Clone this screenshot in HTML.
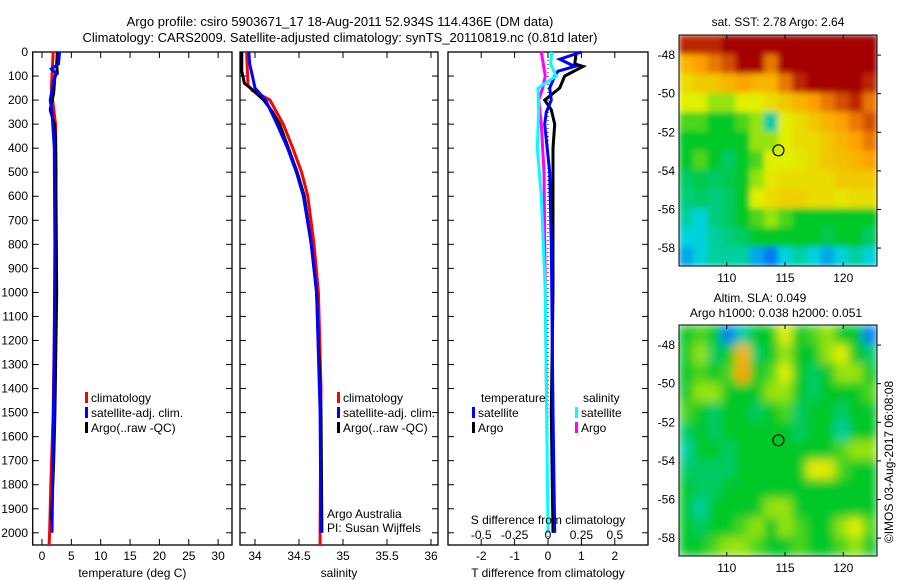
<!DOCTYPE html>
<html><head><meta charset="utf-8">
<style>
body{margin:0;background:#fff;}
svg{display:block;font-family:"Liberation Sans",sans-serif;}
text{font-size:12px;fill:#000;}
</style></head>
<body>
<svg id="fig" width="900" height="580" xmlns="http://www.w3.org/2000/svg">
<defs>
<filter id="blur1" x="0" y="0" width="1" height="1"><feGaussianBlur stdDeviation="3" edgeMode="duplicate"/></filter>
<filter id="blur2" x="0" y="0" width="1" height="1"><feGaussianBlur stdDeviation="5" edgeMode="duplicate"/></filter>
<clipPath id="clip1"><rect x="679" y="35" width="198" height="231"/></clipPath>
<clipPath id="clip2"><rect x="679" y="325" width="198" height="231"/></clipPath>
</defs>
<text x="340" y="26" text-anchor="middle" style="font-size:13px">Argo profile: csiro 5903671_17 18-Aug-2011 52.934S 114.436E (DM data)</text>
<text x="340" y="42" text-anchor="middle" style="font-size:13px">Climatology: CARS2009. Satellite-adjusted climatology: synTS_20110819.nc (0.81d later)</text>
<g id="p1"></g>
<g id="p2"></g>
<g id="p3"></g>
<g id="m1"></g>
<g id="m2"></g>
<text x="778" y="26" text-anchor="middle">sat. SST: 2.78 Argo: 2.64</text>
<text x="760" y="302" text-anchor="middle">Altim. SLA: 0.049</text>
<text x="776" y="317" text-anchor="middle">Argo h1000: 0.038 h2000: 0.051</text>
<text transform="translate(893,462) rotate(-90)" text-anchor="middle">©IMOS 03-Aug-2017 06:08:08</text>
<text x="327" y="518">Argo Australia</text>
<text x="327" y="532">PI: Susan Wijffels</text>
</svg>
<script>
// depth axis
const depthTicks=[0,100,200,300,400,500,600,700,800,900,1000,1100,1200,1300,1400,1500,1600,1700,1800,1900,2000];
// temperature panel
const tempTicks=[0,5,10,15,20,25,30];
const tClimDepth=[0,100,150,200,300,500,1000,1500,1800,2000,2055];
const tClim=[1.9,1.7,1.6,1.8,2.3,2.4,2.2,1.9,1.5,1.3,1.2];
const tSatDepth=[0,50,70,90,130,200,250,400,800,1200,1600,2000];
const tSat=[3.0,2.8,1.6,2.4,1.9,1.4,1.7,2.1,2.2,2.1,1.9,1.7];
const tArgoDepth=[0,50,90,100,170,240,300,350,1000,1500,1700,1950];
const tArgo=[2.6,2.5,2.6,2.2,2.0,1.4,2.1,2.3,2.5,2.2,2.0,1.6];
// salinity panel
const salTicks=[34,34.5,35,35.5,36];
const sClimDepth=[0,140,160,200,300,400,500,600,800,1000,1400,2000,2055];
const sClim=[33.905,33.92,33.97,34.17,34.32,34.43,34.53,34.6,34.67,34.72,34.75,34.74,34.74];
const sArgoDepth=[0,80,130,150,200,250,300,400,500,600,800,1000,1500,2000];
const sArgo=[33.85,33.85,33.88,33.95,34.1,34.2,34.28,34.38,34.48,34.56,34.64,34.7,34.75,34.76];
const sSatDepth=[0,50,100,150,200,300,400,500,600,800,1000,1500,2000];
const sSat=[33.93,33.94,33.97,34.0,34.12,34.25,34.37,34.47,34.55,34.64,34.7,34.74,34.75];
// difference panel
const tDiffTicks=[-2,-1,0,1,2];
const sDiffTicks=[-0.5,-0.25,0,0.25,0.5];
const dTSatDepth=[0,30,60,80,100,150,200,250,300,500,800,1500,2000];
const dTSat=[1.0,0.35,0.8,0.3,0.2,0.05,0.1,-0.05,-0.1,0.05,0.1,0.15,0.2];
const dTArgoDepth=[0,50,60,100,150,200,240,300,400,600,1000,1500,2000];
const dTArgo=[0.85,0.8,1.05,0.5,0.35,-0.1,0.1,0.2,0.15,0.15,0.15,0.1,0.15];
const dSSatDepth=[0,50,100,150,250,400,600,1000,2000];
const dSSat=[0.028,0.02,0.06,-0.075,-0.07,-0.08,-0.05,-0.02,0.0];
const dSArgoDepth=[0,100,150,200,300,500,1000,1500];
const dSArgo=[-0.05,-0.02,-0.04,-0.07,-0.05,-0.03,-0.02,-0.01];
// maps
const lonTicks=[110,115,120];
const latTicks=[-48,-50,-52,-54,-56,-58];
const sstGrid=[
[0.95,0.95,0.95,1,1,1,1,1,1,1,1,1,1,1],
[0.75,0.8,0.85,0.9,1,1,0.85,1,1,1,1,1,1,1],
[0.65,0.7,0.7,0.75,0.8,0.75,0.75,0.85,0.95,1,1,1,1,0.95],
[0.6,0.6,0.55,0.55,0.6,0.6,0.65,0.7,0.75,0.8,0.85,0.9,0.95,0.85],
[0.5,0.5,0.45,0.45,0.5,0.55,0.35,0.6,0.65,0.7,0.75,0.8,0.85,0.9],
[0.45,0.45,0.45,0.45,0.45,0.55,0.55,0.6,0.65,0.65,0.7,0.75,0.8,0.85],
[0.45,0.5,0.45,0.4,0.45,0.5,0.6,0.6,0.62,0.65,0.7,0.72,0.75,0.8],
[0.4,0.42,0.4,0.42,0.45,0.55,0.62,0.65,0.65,0.65,0.65,0.7,0.7,0.7],
[0.38,0.4,0.38,0.4,0.45,0.6,0.65,0.68,0.68,0.65,0.65,0.62,0.65,0.65],
[0.35,0.3,0.38,0.4,0.45,0.5,0.55,0.5,0.45,0.45,0.45,0.45,0.45,0.45],
[0.3,0.3,0.35,0.38,0.4,0.45,0.45,0.45,0.45,0.45,0.42,0.45,0.45,0.4],
[0.25,0.3,0.35,0.35,0.35,0.25,0.2,0.3,0.35,0.3,0.25,0.3,0.35,0.3]];
const slaGrid=[
[0.45,0.5,0.45,0.2,0.35,0.45,0.45,0.6,0.45,0.5,0.55,0.45,0.45,0.2],
[0.45,0.55,0.4,0.45,0.75,0.4,0.45,0.55,0.45,0.45,0.55,0.6,0.45,0.4],
[0.45,0.5,0.45,0.5,0.8,0.45,0.5,0.6,0.45,0.4,0.45,0.55,0.55,0.45],
[0.45,0.55,0.55,0.45,0.45,0.45,0.55,0.55,0.45,0.4,0.45,0.45,0.45,0.5],
[0.5,0.45,0.4,0.45,0.45,0.4,0.45,0.5,0.4,0.45,0.45,0.4,0.45,0.45],
[0.4,0.45,0.4,0.45,0.45,0.45,0.45,0.45,0.4,0.45,0.45,0.35,0.45,0.45],
[0.35,0.45,0.45,0.4,0.45,0.45,0.45,0.45,0.45,0.45,0.45,0.5,0.55,0.55],
[0.4,0.4,0.4,0.4,0.45,0.45,0.45,0.45,0.45,0.6,0.62,0.5,0.45,0.45],
[0.45,0.4,0.4,0.45,0.45,0.45,0.45,0.45,0.45,0.45,0.45,0.45,0.45,0.45],
[0.45,0.35,0.45,0.45,0.45,0.45,0.55,0.55,0.45,0.45,0.45,0.45,0.45,0.45],
[0.45,0.4,0.45,0.45,0.5,0.55,0.45,0.55,0.5,0.45,0.45,0.55,0.6,0.5],
[0.45,0.45,0.5,0.55,0.55,0.5,0.45,0.45,0.5,0.45,0.45,0.5,0.55,0.45]];
const floatLon=114.436, floatLat=-52.934;

const NS="http://www.w3.org/2000/svg";
function mk(parent,tag,attrs){const e=document.createElementNS(NS,tag);for(const k in attrs)e.setAttribute(k,attrs[k]);parent.appendChild(e);return e;}
const TOP=52,BOT=545;
const yD=d=>TOP+d*0.2404;
function panel(g,x0,x1,xs,ticks,fmt,label,tickLabels){
  const fr=mk(g,'rect',{x:x0,y:TOP,width:x1-x0,height:BOT-TOP,fill:'none',stroke:'#000','stroke-width':1.3});
  
  
  depthTicks.forEach(d=>{
    const y=yD(d);
    mk(g,'line',{x1:x0,x2:x0+6,y1:y,y2:y,stroke:'#000'});
    mk(g,'line',{x1:x1,x2:x1-6,y1:y,y2:y,stroke:'#000'});
  });
  ticks.forEach(v=>{
    const x=xs(v);
    mk(g,'line',{x1:x,x2:x,y1:BOT,y2:BOT-6,stroke:'#000'});
    mk(g,'line',{x1:x,x2:x,y1:TOP,y2:TOP+6,stroke:'#000'});
    if(tickLabels){const t=mk(g,'text',{x:x,y:BOT+15,'text-anchor':'middle'});t.textContent=fmt(v);
      
      }
  });
  if(label){const t=mk(g,'text',{x:(x0+x1)/2,y:577,'text-anchor':'middle'});t.textContent=label;
    
    }
}
function line(g,xs,vals,depths,color,name,w){
  let d='';
  for(let i=0;i<vals.length;i++){
    const x=xs(vals[i]),y=yD(depths[i]);
    d+=(i?'L':'M')+x.toFixed(1)+','+y.toFixed(1);
  }
  const p=mk(g,'path',{d:d,fill:'none',stroke:color,'stroke-width':w||3});
  
  
}
function legend(g,x,y0,colors,labels){
  labels.forEach((l,i)=>{
    const y=y0+i*15;
    const r=mk(g,'rect',{x:x,y:y-6,width:3,height:11,fill:colors[i]});
    
    
    const t=mk(g,'text',{x:x+6,y:y+4});t.textContent=l;
    
    
  });
}
const p1=document.getElementById('p1');
depthTicks.forEach(d=>{const t=mk(p1,'text',{x:28,y:yD(d)+4,'text-anchor':'end'});t.textContent=d;
  
  });
const xT=v=>42+v*5.87;
panel(p1,32.7,232,xT,tempTicks,v=>v,'temperature (deg C)',true);
line(p1,xT,tClim,tClimDepth,'#f00','temp-climatology-line');
line(p1,xT,tArgo,tArgoDepth,'#000','temp-argo-line');
line(p1,xT,tSat,tSatDepth,'#00f','temp-satellite-line');
legend(p1,85,398,['#f00','#00f','#000'],['climatology','satellite-adj. clim.','Argo(..raw -QC)']);
const p2=document.getElementById('p2');
const xS=v=>255+(v-34)*88;
panel(p2,240,438,xS,salTicks,v=>v,'salinity',true);
line(p2,xS,sClim,sClimDepth,'#f00','sal-climatology-line');
line(p2,xS,sArgo,sArgoDepth,'#000','sal-argo-line');
line(p2,xS,sSat,sSatDepth,'#00f','sal-satellite-line');
legend(p2,337,398,['#f00','#00f','#000'],['climatology','satellite-adj. clim.','Argo(..raw -QC)']);
const p3=document.getElementById('p3');
const xDT=v=>548+v*33.4;
const xDS=v=>548+v*133.6;
panel(p3,448,648,xDT,tDiffTicks,v=>v,'T difference from climatology',true);
const z=mk(p3,'line',{x1:548,x2:548,y1:TOP,y2:BOT,stroke:'#000','stroke-dasharray':'1,3'});


line(p3,xDS,dSArgo,dSArgoDepth,'#f0f','sdiff-argo-line');
line(p3,xDT,dTArgo,dTArgoDepth,'#000','tdiff-argo-line');
line(p3,xDT,dTSat,dTSatDepth,'#00f','tdiff-satellite-line');
line(p3,xDS,dSSat,dSSatDepth,'#0ff','sdiff-satellite-line');
sDiffTicks.forEach(v=>{const t=mk(p3,'text',{x:xDS(v),y:539,'text-anchor':'middle'});t.textContent=v;
  
  });
{const t=mk(p3,'text',{x:548,y:524,'text-anchor':'middle'});t.textContent='S difference from climatology';
 
 }
{const t=mk(p3,'text',{x:481,y:402});t.textContent='temperature';
 
 
 const t2=mk(p3,'text',{x:583,y:402});t2.textContent='salinity';
 
 }
legend(p3,472,413,['#00f','#000'],['satellite','Argo']);
legend(p3,575,413,['#0ff','#f0f'],['satellite','Argo']);
const stops=[[0,[0,0,160]],[0.15,[0,80,255]],[0.3,[0,210,220]],[0.45,[0,200,40]],[0.6,[225,240,0]],[0.8,[255,160,0]],[1,[165,0,0]]];
function cmap(v){for(let i=1;i<stops.length;i++){if(v<=stops[i][0]){const a=stops[i-1],b=stops[i];const f=(v-a[0])/(b[0]-a[0]);return 'rgb('+a[1].map((c,k)=>Math.round(c+(b[1][k]-c)*f)).join(',')+')';}}return 'rgb(165,0,0)';}
function map(id,top,grid,filt,clip){
  const g=document.getElementById(id);
  const L=679,R=877,T=top,B=top+231;
  const lx=v=>L+(v-105.9)*11.65, ly=v=>T+(-46.96-v)*19.3;
  const rows=grid.length,cols=grid[0].length,cw=(R-L)/cols,ch=(B-T)/rows;
  const cg=mk(g,'g',{'clip-path':'url(#'+clip+')'});
  const hg=mk(cg,'g',{filter:'url(#'+filt+')'});
  grid.forEach((row,r)=>row.forEach((v,c)=>{
    const e=mk(hg,'rect',{x:L+c*cw,y:T+r*ch,width:cw+0.5,height:ch+0.5,fill:cmap(v)});
    
    
  }));
  const fr=mk(g,'rect',{x:L,y:T,width:R-L,height:B-T,fill:'none',stroke:'#000'});
  
  
  lonTicks.forEach(v=>{const x=lx(v);
    mk(g,'line',{x1:x,x2:x,y1:B,y2:B-4,stroke:'#000'});mk(g,'line',{x1:x,x2:x,y1:T,y2:T+4,stroke:'#000'});
    const t=mk(g,'text',{x:x,y:B+16,'text-anchor':'middle'});t.textContent=v;
    
    });
  latTicks.forEach(v=>{const y=ly(v);
    mk(g,'line',{x1:R,x2:R+4,y1:y,y2:y,stroke:'#000'});
    const t=mk(g,'text',{x:L-4,y:y+4,'text-anchor':'end'});t.textContent=v;
    
    });
  const c=mk(g,'circle',{cx:lx(floatLon),cy:ly(floatLat),r:5.5,fill:'none',stroke:'#000','stroke-width':1.2});
  
  
}
map('m1',35,sstGrid,'blur1','clip1');
map('m2',325,slaGrid,'blur2','clip2');
</script>
</body></html>
